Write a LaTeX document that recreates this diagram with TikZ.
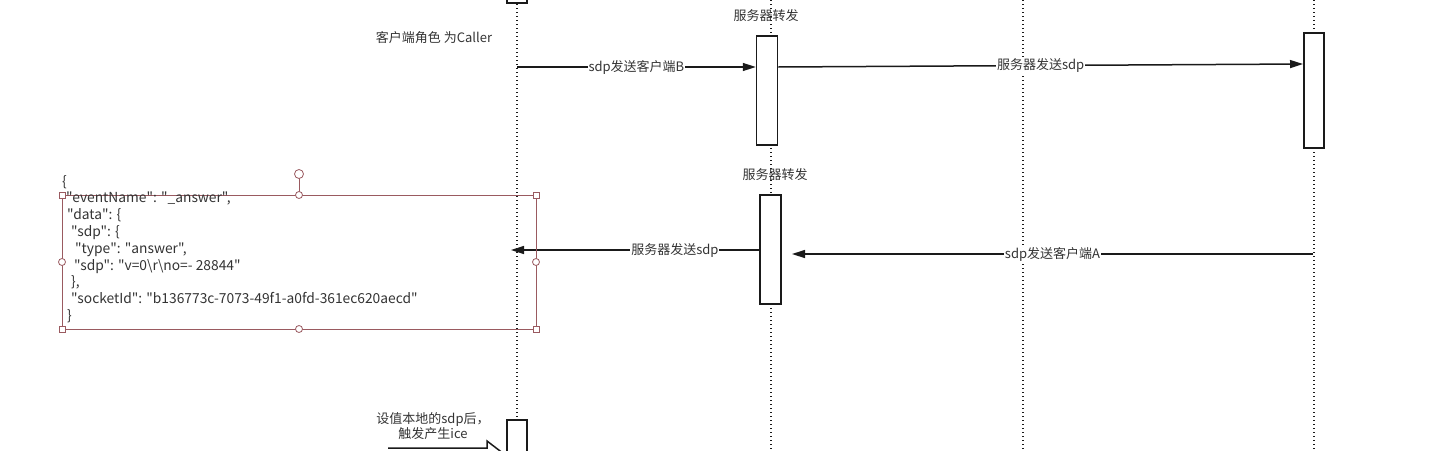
\documentclass[tikz,border=0pt]{standalone}
\usepackage{fontspec}
\setmainfont{Noto Sans CJK SC}
\newfontfamily\jsonfont{Noto Sans CJK SC}[Ligatures=TeXOff]
\usetikzlibrary{arrows.meta}
\definecolor{ink}{HTML}{1A1A1A}
\definecolor{txt}{HTML}{333333}
\definecolor{sel}{HTML}{9A5A60}
\tikzset{
  lifeline/.style={draw=ink, line width=1.5pt, dash pattern=on 1.4pt off 2.6pt},
  actbox/.style={draw=ink, fill=white, line width=1.5pt, minimum width=20pt, inner sep=0pt},
  msg/.style={draw=ink, line width=1.5pt, -{Triangle[length=13pt,width=8pt]}},
  lbl/.style={fill=white, text=txt, inner sep=1pt, font=\fontsize{13}{15}\selectfont},
  note/.style={text=txt, inner sep=0pt, font=\fontsize{13}{15}\selectfont, align=center},
  selline/.style={draw=sel, line width=0.8pt},
  selsq/.style={draw=sel, fill=white, line width=0.8pt, minimum size=6pt, inner sep=0pt},
  selci/.style={draw=sel, fill=white, line width=0.8pt, circle, minimum size=7pt, inner sep=0pt},
}
\begin{document}
\begin{tikzpicture}[x=1pt,y=-1pt]
\useasboundingbox (0,0) rectangle (1429,450);
\clip (0,0) rectangle (1429,450);
% lifelines
\coordinate (l1t) at (517,0);
\coordinate (l1b) at (517,450);
\coordinate (l2t) at (771,0);
\coordinate (l2b) at (771,450);
\coordinate (l3t) at (1023,0);
\coordinate (l3b) at (1023,450);
\coordinate (l4t) at (1314,0);
\coordinate (l4b) at (1314,450);
\draw[lifeline] (l1t) -- (l1b);
\draw[lifeline] (l2t) -- (l2b);
\draw[lifeline] (l3t) -- (l3b);
\draw[lifeline] (l4t) -- (l4b);
% activation boxes
\node[actbox, minimum height=23pt] (b0) at (517,-8.5) {};
\node[actbox, minimum height=109pt, minimum width=21pt] (b1) at (767,90.5) {};
\node[actbox, minimum height=109pt, minimum width=21pt] (b2) at (770.5,249.5) {};
\node[actbox, minimum height=115pt] (b3) at (1314,90.5) {};
\node[actbox, minimum height=50pt] (b4) at (517,445) {};
% notes
\node[note] (caller) at (434,38) {客户端角色 为Caller};
\node[note] (fw1) at (766,16) {服务器转发};
\node[note] (fw2) at (775,175) {服务器转发};
\node[note] (ice) at (433,426) {设值本地的sdp后，\\触发产生ice};
% messages
\coordinate (a1s) at (517,67);
\draw[msg] (a1s) -- (b1.west |- a1s) node[lbl, midway] {sdp发送客户端B};
\coordinate (a2e) at (1303,64);
\draw[msg] (b1.east |- a1s) -- (a2e) node[lbl, midway] {服务器发送sdp};
\coordinate (a3s) at (1313,254);
\coordinate (a3e) at (792,254);
\draw[msg] (a3s) -- (a3e) node[lbl, midway] {sdp发送客户端A};
\coordinate (a4e) at (511,250);
\draw[msg] (b2.west |- a4e) -- (a4e) node[lbl, pos=0.34] {服务器发送sdp};
% selection frame
\draw[selline] (62,195) rectangle (536,329);
\coordinate (rot) at (299,174);
\draw[selline] (rot) -- (299,195);
\node[selci, minimum size=9pt] (rh) at (rot) {};
\node[selsq] (s1) at (62,195) {};
\node[selsq] (s2) at (536,195) {};
\node[selsq] (s3) at (62,329) {};
\node[selsq] (s4) at (536,329) {};
\node[selci] (c1) at (299,195) {};
\node[selci] (c2) at (62,262) {};
\node[selci] (c3) at (536,262) {};
\node[selci] (c4) at (299,329) {};
% json text
\node[anchor=north west, text=txt, inner sep=0pt, align=left, font=\jsonfont\fontsize{13.8}{16.8}\selectfont] (json) at (62,175) {%
\{\\
\hspace*{4pt}"eventName": "\_answer",\\
\hspace*{5pt}"data": \{\\
\hspace*{9pt}"sdp": \{\\
\hspace*{13pt}"type": "answer",\\
\hspace*{12pt}"sdp": "v=0\textbackslash r\textbackslash no=- 28844"\\
\hspace*{9pt}\},\\
\hspace*{9pt}"socketId": "b136773c-7073-49f1-a0fd-361ec620aecd"\\
\hspace*{5pt}\}};
% bottom block arrow
\coordinate (ba1) at (388,448);
\coordinate (ba2) at (487,448);
\coordinate (ba3) at (487,441);
\coordinate (ba4) at (504,454);
\draw[draw=ink, line width=1.5pt] (ba1) -- (ba2) -- (ba3) -- (ba4);
\end{tikzpicture}
\end{document}
